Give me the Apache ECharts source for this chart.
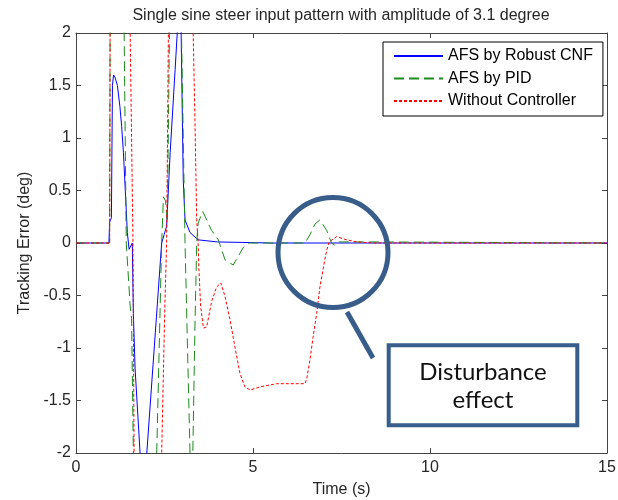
<!DOCTYPE html>
<html>
<head>
<meta charset="utf-8">
<script src="https://cdn.jsdelivr.net/npm/echarts@6/dist/echarts.min.js"></script>
<style>
  html, body { margin: 0; padding: 0; background: #fff; }
  #chart { width: 618px; height: 500px; }
</style>
</head>
<body>
<div id="chart"></div>
<script>
// time (s) and tracking error (deg)
const seriesNames = ['AFS by Robust CNF', 'AFS by PID', 'Without Controller'];
const xTicks = [0, 5, 10, 15];

const cnfT = [0, 0.93, 0.95, 1.0, 1.03, 1.06, 1.1, 1.17, 1.24, 1.29, 1.34, 1.4, 1.45, 1.5, 1.55, 1.59, 1.62, 1.67, 1.81, 1.9, 2.0, 2.42, 2.49, 2.56, 2.66, 2.8, 2.86, 2.91, 2.97, 3.03, 3.08, 3.22, 3.45, 4.0, 5.5, 15];
const cnfY = [0, 0, 0.2, 0.24, 1.5, 1.6, 1.58, 1.5, 1.3, 1.11, 0.86, 0.45, 0.1, -0.06, -0.05, 0, -0.67, -1.2, -2, -2.35, -2, 0, 0.08, 0.16, 0.86, 1.65, 2, 2.2, 2, 0.6, 0.22, 0.1, 0.03, 0.01, 0, 0];

const pidT = [0, 0.95, 0.97, 1.15, 1.36, 1.42, 1.53, 1.57, 1.62, 1.95, 2.28, 2.42, 2.47, 2.53, 2.58, 2.64, 2.8, 2.98, 3.08, 3.22, 3.26, 3.3, 3.36, 3.41, 3.45, 3.58, 3.83, 4.02, 4.21, 4.44, 4.73, 4.9, 6.47, 6.61, 6.75, 6.89, 7.08, 7.22, 7.3, 7.4, 8.5, 15];
const pidY = [0, 0, 3, 3.2, 2, 0, -0.6, -0.72, -2, -3.2, -2, 0, 0.44, 0.4, 0.2, 2, 2.8, 2, 0, -2, -2.3, -2, -0.8, 0, 0.19, 0.3, 0.12, 0.03, -0.16, -0.21, -0.04, 0, 0, 0.08, 0.18, 0.22, 0.12, 0, -0.02, 0.01, 0.01, 0];

const nocT = [0, 0.95, 0.97, 1.25, 1.53, 1.61, 1.64, 2.0, 2.42, 2.51, 2.56, 2.61, 2.95, 3.31, 3.36, 3.41, 3.45, 3.47, 3.52, 3.6, 3.69, 3.83, 3.97, 4.09, 4.21, 4.35, 4.49, 4.63, 4.77, 4.92, 5.2, 5.67, 6.33, 6.47, 6.52, 6.61, 6.7, 6.8, 6.89, 6.99, 7.08, 7.15, 7.36, 7.65, 7.93, 8.4, 15];
const nocY = [0, 0, 3.1, 3.3, 2, 0, -2, -3.4, -2, -0.6, 0, 2, 3.4, 2, 1.17, 0.22, 0, -0.23, -0.6, -0.81, -0.8, -0.56, -0.42, -0.38, -0.51, -0.73, -0.99, -1.24, -1.37, -1.4, -1.37, -1.34, -1.34, -1.34, -1.29, -1.11, -0.89, -0.67, -0.42, -0.23, -0.07, 0.01, 0.06, 0.03, 0.01, 0, 0];

function pairs(t, y) {
  return t.map((v, i) => [v, y[i]]);
}

const font = 'Liberation Sans, Arial, sans-serif';
const axisCol = '#444';
const annCol = '#385D8A';

const chart = echarts.init(document.getElementById('chart'));

function lineSeries(name, t, y, color, dash) {
  return {
    name: name,
    type: 'line',
    data: pairs(t, y),
    symbol: 'none',
    showSymbol: false,
    lineStyle: { color: color, width: 1, type: dash },
    itemStyle: { color: color },
    animation: false
  };
}

const option = {
  animation: false,
  grid: { left: 76, right: 11, top: 33, bottom: 47, outerBoundsMode: 'none' },
  legend: {
    orient: 'vertical',
    left: 383,
    top: 42,
    padding: [6, 10, 7, 10],
    itemGap: 6.5,
    itemWidth: 49,
    itemHeight: 14,
    borderColor: '#000',
    borderWidth: 1,
    backgroundColor: '#fff',
    itemStyle: { opacity: 0 },
    textStyle: { fontFamily: font, fontSize: 16, color: '#000' },
    data: seriesNames
  },
  xAxis: [{
    type: 'value', min: 0, max: 15, interval: 5,
    name: 'Time (s)', nameLocation: 'middle', nameGap: 29,
    nameTextStyle: { fontFamily: font, fontSize: 16, color: '#262626' },
    axisLine: { onZero: false, lineStyle: { color: axisCol, width: 1 } },
    axisTick: { inside: true, length: 5, lineStyle: { color: axisCol } },
    axisLabel: { fontFamily: font, fontSize: 16, color: '#262626', margin: 7 },
    splitLine: { show: false }
  }, {
    type: 'value', min: 0, max: 15, interval: 5, position: 'top',
    axisLine: { onZero: false, lineStyle: { color: axisCol, width: 1 } },
    axisTick: { inside: true, length: 5, lineStyle: { color: axisCol } },
    axisLabel: { show: false },
    splitLine: { show: false }
  }],
  yAxis: [{
    type: 'value', min: -2, max: 2, interval: 0.5,
    name: 'Tracking Error (deg)', nameLocation: 'middle', nameGap: 41,
    nameTextStyle: { fontFamily: font, fontSize: 16, color: '#262626' },
    axisLine: { show: true, onZero: false, lineStyle: { color: axisCol, width: 1 } },
    axisTick: { show: true, inside: true, length: 5, lineStyle: { color: axisCol } },
    axisLabel: { fontFamily: font, fontSize: 16, color: '#262626', margin: 5 },
    splitLine: { show: false }
  }, {
    type: 'value', min: -2, max: 2, interval: 0.5, position: 'right',
    axisLine: { show: true, onZero: false, lineStyle: { color: axisCol, width: 1 } },
    axisTick: { show: true, inside: true, length: 5, lineStyle: { color: axisCol } },
    axisLabel: { show: false },
    splitLine: { show: false }
  }],
  series: [
    lineSeries(seriesNames[0], cnfT, cnfY, '#0000ff', 'solid'),
    lineSeries(seriesNames[1], pidT, pidY, '#1c8a1c', [10, 5]),
    lineSeries(seriesNames[2], nocT, nocY, '#ff0000', [3, 2])
  ],
  graphic: [
    {
      type: 'text', x: 341, y: 16, z: 100,
      style: {
        text: 'Single sine steer input pattern with amplitude of 3.1 degree',
        font: '16px ' + font, fill: '#262626',
        textAlign: 'center', textVerticalAlign: 'middle'
      }
    },
    // callout: circle around the disturbance, pointer and label box
    {
      type: 'circle', z: 100,
      shape: { cx: 333, cy: 252.5, r: 55 },
      style: { fill: 'none', stroke: annCol, lineWidth: 5 }
    },
    {
      type: 'line', z: 100,
      shape: { x1: 347, y1: 312, x2: 373, y2: 358 },
      style: { stroke: annCol, lineWidth: 5 }
    },
    {
      type: 'rect', z: 100,
      shape: { x: 388.7, y: 345.3, width: 188.6, height: 80 },
      style: { fill: '#fff', stroke: annCol, lineWidth: 4 }
    },
    {
      type: 'text', x: 483, y: 386, z: 101,
      style: {
        text: 'Disturbance\neffect',
        font: '24px Lato, sans-serif', fill: '#111',
        lineHeight: 28,
        textAlign: 'center', textVerticalAlign: 'middle'
      }
    }
  ]
};

chart.setOption(option);
</script>
</body>
</html>
